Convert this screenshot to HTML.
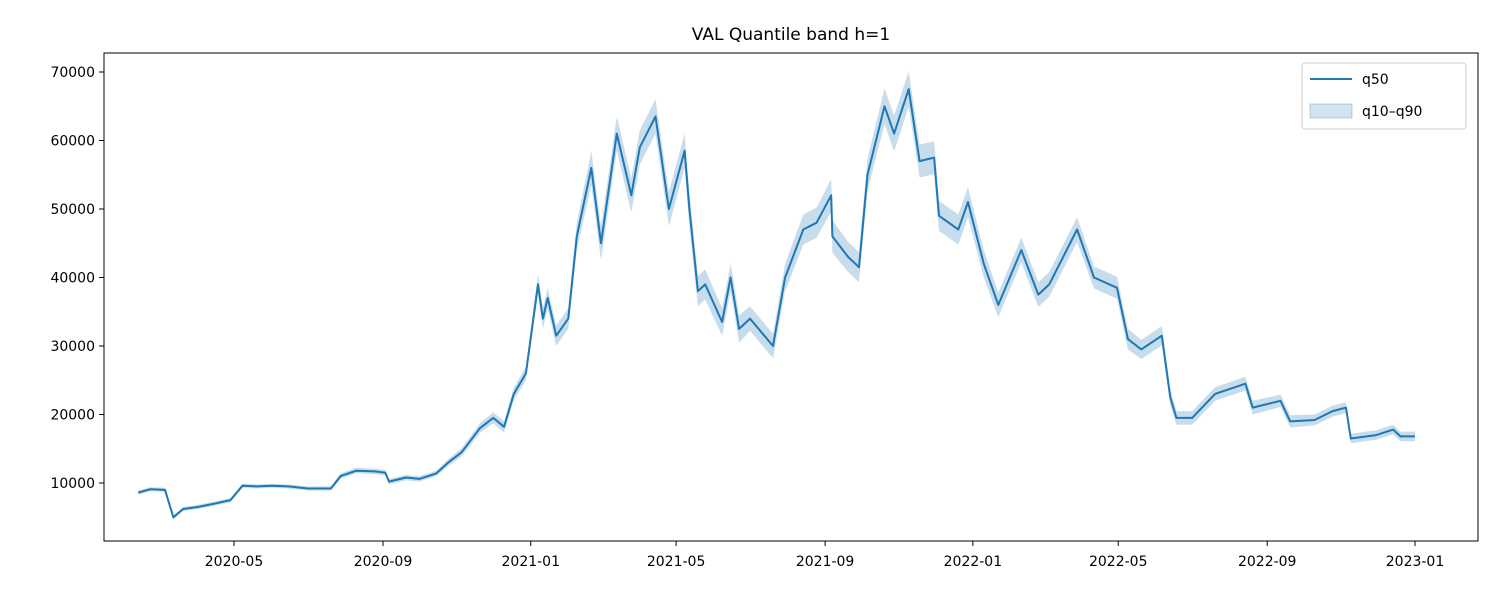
<!DOCTYPE html>
<html><head><meta charset="utf-8"><style>
body{margin:0;background:#fff;}
svg text{font-family:"DejaVu Sans","Liberation Sans",sans-serif;fill:#000;}
</style></head><body>
<svg id="chart" width="1500" height="600" xmlns="http://www.w3.org/2000/svg">
<text x="791" y="40" font-size="17" text-anchor="middle">VAL Quantile band h=1</text>
<g id="band"></g>
<g id="line"></g>
<rect x="104" y="53" width="1374" height="488" fill="none" stroke="#000" stroke-width="1"/>
<g id="xaxis"></g>
<g id="yaxis"></g>
<g>
<rect x="1302" y="63" width="164" height="66" rx="3" fill="#fff" stroke="#ccc" stroke-width="1"/>
<line x1="1310" y1="79" x2="1352" y2="79" stroke="#1f77b4" stroke-width="2"/>
<text x="1362" y="84" font-size="14">q50</text>
<rect x="1310" y="104" width="42" height="14" fill="rgba(31,119,180,0.2)" stroke="rgba(31,119,180,0.3)"/>
<text x="1362" y="116" font-size="14">q10–q90</text>
</g>
</svg>
<script>
const dates=["2020-02-12","2020-02-22","2020-03-05","2020-03-12","2020-03-20","2020-04-01","2020-04-15","2020-04-28","2020-05-08","2020-05-20","2020-06-01","2020-06-15","2020-07-01","2020-07-20","2020-07-28","2020-08-10","2020-08-25","2020-09-03","2020-09-06","2020-09-20","2020-10-01","2020-10-15","2020-10-25","2020-11-05","2020-11-20","2020-12-01","2020-12-10","2020-12-18","2020-12-28","2021-01-07","2021-01-11","2021-01-15","2021-01-22","2021-02-01","2021-02-08","2021-02-20","2021-02-28","2021-03-13","2021-03-25","2021-04-01","2021-04-14","2021-04-25","2021-05-08","2021-05-12","2021-05-19","2021-05-25","2021-06-08","2021-06-15","2021-06-22","2021-07-01","2021-07-20","2021-07-30","2021-08-14","2021-08-25","2021-09-06","2021-09-07","2021-09-20","2021-09-29","2021-10-06","2021-10-20","2021-10-28","2021-11-09","2021-11-18","2021-11-30","2021-12-04","2021-12-20","2021-12-28","2022-01-10","2022-01-22","2022-02-10","2022-02-24","2022-03-05","2022-03-28","2022-04-11","2022-04-30","2022-05-09","2022-05-20","2022-06-06","2022-06-13","2022-06-18","2022-07-01","2022-07-20","2022-08-14","2022-08-20","2022-09-12","2022-09-20","2022-10-10","2022-10-25","2022-11-05","2022-11-09","2022-11-30","2022-12-14","2022-12-20","2023-01-01"];
const q50=[8600,9100,9000,5000,6200,6500,7000,7500,9600,9500,9600,9500,9200,9200,11000,11800,11700,11500,10200,10800,10600,11400,13000,14500,18000,19500,18200,23000,26000,39000,34000,37000,31500,34000,46000,56000,45000,61000,52000,59000,63500,50000,58500,50000,38000,39000,33500,40000,32500,34000,30000,40000,47000,48000,52000,46000,43000,41500,55000,65000,61000,67500,57000,57500,49000,47000,51000,42000,36000,44000,37500,39000,47000,40000,38500,31000,29500,31500,22500,19500,19500,23000,24500,21000,22000,19000,19200,20500,21000,16500,17000,17800,16800,16800];
const halfBand=[300,300,300,300,300,300,300,300,300,300,300,300,300,300,400,400,400,400,400,400,400,400,500,600,700,800,800,900,1000,1500,1500,1500,1500,1500,2000,2500,2500,2500,2500,2500,2500,2500,2500,2500,2200,2200,2000,2000,2000,1800,1800,2000,2200,2200,2400,2400,2200,2200,2400,2600,2600,2600,2400,2400,2200,2200,2200,2000,1800,1800,1800,1800,1800,1600,1600,1500,1400,1400,1200,1000,1000,1000,1000,1000,900,900,800,800,800,700,700,700,700,700];
const yTicks=[10000,20000,30000,40000,50000,60000,70000];
const xTicks=["2020-05","2020-09","2021-01","2021-05","2021-09","2022-01","2022-05","2022-09","2023-01"];
const NS="http://www.w3.org/2000/svg";
const t0=Date.parse("2020-05-01"),t1=Date.parse("2023-01-01");
function xs(d){const t=Date.parse(d.length<8?d+"-01":d);return 234+(t-t0)/(t1-t0)*(1415-234);}
function ys(v){return 483-(v-10000)*(411/60000);}
let line="",up="",dn="";
dates.forEach((d,i)=>{const x=xs(d).toFixed(1);line+=(i?"L":"M")+x+","+ys(q50[i]).toFixed(1);up+=(i?"L":"M")+x+","+ys(q50[i]+halfBand[i]).toFixed(1);});
for(let i=dates.length-1;i>=0;i--){dn+="L"+xs(dates[i]).toFixed(1)+","+ys(q50[i]-halfBand[i]).toFixed(1);}
const bp=document.createElementNS(NS,"path");


bp.setAttribute("d",up+dn+"Z");bp.setAttribute("fill","rgba(31,119,180,0.25)");bp.setAttribute("stroke","none");
document.getElementById("band").appendChild(bp);
const lp=document.createElementNS(NS,"path");


lp.setAttribute("d",line);lp.setAttribute("fill","none");lp.setAttribute("stroke","#1f77b4");lp.setAttribute("stroke-width","2");lp.setAttribute("stroke-linejoin","round");
document.getElementById("line").appendChild(lp);
const xa=document.getElementById("xaxis");
xTicks.forEach(t=>{const x=xs(t);
const l=document.createElementNS(NS,"line");


l.setAttribute("x1",x);l.setAttribute("x2",x);l.setAttribute("y1",541);l.setAttribute("y2",546);l.setAttribute("stroke","#000");xa.appendChild(l);
const tx=document.createElementNS(NS,"text");


tx.setAttribute("x",x);tx.setAttribute("y",566);tx.setAttribute("font-size","14");tx.setAttribute("text-anchor","middle");tx.textContent=t;xa.appendChild(tx);});
const ya=document.getElementById("yaxis");
yTicks.forEach(v=>{const y=ys(v);
const l=document.createElementNS(NS,"line");


l.setAttribute("x1",99);l.setAttribute("x2",104);l.setAttribute("y1",y);l.setAttribute("y2",y);l.setAttribute("stroke","#000");ya.appendChild(l);
const tx=document.createElementNS(NS,"text");


tx.setAttribute("x",95);tx.setAttribute("y",y+5);tx.setAttribute("font-size","14");tx.setAttribute("text-anchor","end");tx.textContent=v;ya.appendChild(tx);});
</script>
</body></html>
